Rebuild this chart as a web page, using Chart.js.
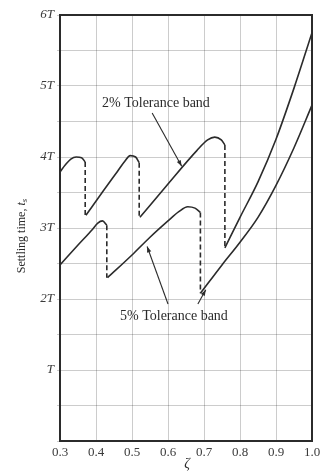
<!DOCTYPE html>
<html>
<head>
<meta charset="utf-8">
<script src="https://cdn.jsdelivr.net/npm/chart.js@4/dist/chart.umd.min.js"></script>
<style>
  html, body { margin: 0; padding: 0; background: #fff; }
</style>
</head>
<body>
<canvas id="grafica" width="329" height="475"></canvas>
<script>
  // --- Valores (ζ en el eje x, ts en unidades de T) ---
  // Banda del 2 %: cuatro tramos continuos
  const zeta2a = [0.3, 0.315, 0.33, 0.345, 0.36, 0.37];
  const ts2a   = [3.79, 3.89, 3.97, 4.0, 3.99, 3.93];
  const zeta2b = [0.372, 0.42, 0.46, 0.48, 0.495, 0.51, 0.52];
  const ts2b   = [3.18, 3.52, 3.8, 3.94, 4.02, 4.0, 3.92];
  const zeta2c = [0.522, 0.6, 0.68, 0.71, 0.73, 0.748, 0.758];
  const ts2c   = [3.15, 3.62, 4.09, 4.24, 4.28, 4.24, 4.17];
  const zeta2d = [0.758, 0.8, 0.85, 0.9, 0.95, 1.0];
  const ts2d   = [2.72, 3.15, 3.65, 4.25, 4.97, 5.75];

  // Banda del 5 %: tres tramos continuos
  const zeta5a = [0.3, 0.35, 0.39, 0.405, 0.418, 0.43];
  const ts5a   = [2.48, 2.76, 2.98, 3.07, 3.1, 3.04];
  const zeta5b = [0.432, 0.5, 0.55, 0.6, 0.63, 0.655, 0.675, 0.69];
  const ts5b   = [2.30, 2.62, 2.87, 3.1, 3.23, 3.30, 3.28, 3.22];
  const zeta5c = [0.69, 0.75, 0.8, 0.85, 0.9, 0.95, 1.0];
  const ts5c   = [2.08, 2.48, 2.8, 3.15, 3.6, 4.13, 4.73];

  // Saltos discontinuos (líneas a trazos)
  const salto2Zeta  = [0.37, 0.52, 0.758];
  const salto2Arriba = [3.93, 3.92, 4.17];
  const salto2Abajo  = [3.18, 3.15, 2.72];
  const salto5Zeta  = [0.43, 0.69];
  const salto5Arriba = [3.04, 3.22];
  const salto5Abajo  = [2.30, 2.08];

  // Ejes
  const ticksX = [0.3, 0.4, 0.5, 0.6, 0.7, 0.8, 0.9, 1.0];
  const etiquetasY = { 1: 'T', 2: '2T', 3: '3T', 4: '4T', 5: '5T', 6: '6T' };

  // --- Anotaciones (en coordenadas de datos) ---
  const rotulo2 = { texto: '2% Tolerance band', zeta: 0.4167, ts: 4.75 };
  const flecha2 = [[0.556, 4.62], [0.638, 3.87]];
  const rotulo5 = { texto: '5% Tolerance band', zeta: 0.4667, ts: 1.75 };
  const flecha5a = [[0.6, 1.93], [0.542, 2.74]];
  const flecha5b = [[0.683, 1.93], [0.705, 2.13]];

  const TINTA = '#2b2b2b';
  const SERIF = '"Liberation Serif", "DejaVu Serif", serif';

  function puntos(xs, ys) { return xs.map((x, i) => ({ x, y: ys[i] })); }

  function tramo(xs, ys) {
    return {
      data: puntos(xs, ys), borderColor: TINTA, borderWidth: 1.6,
      pointRadius: 0, cubicInterpolationMode: 'monotone', fill: false,
    };
  }
  function salto(x, y0, y1) {
    return {
      data: [{ x, y: y0 }, { x, y: y1 }], borderColor: TINTA, borderWidth: 1.6,
      borderDash: [5, 3], pointRadius: 0, fill: false,
    };
  }

  const datasets = [
    tramo(zeta2a, ts2a), tramo(zeta2b, ts2b), tramo(zeta2c, ts2c), tramo(zeta2d, ts2d),
    tramo(zeta5a, ts5a), tramo(zeta5b, ts5b), tramo(zeta5c, ts5c),
    ...salto2Zeta.map((z, i) => salto(z, salto2Arriba[i], salto2Abajo[i])),
    ...salto5Zeta.map((z, i) => salto(z, salto5Arriba[i], salto5Abajo[i])),
  ];

  /* --- Marco, rótulos, flechas y títulos de ejes --------------------------- */
  function dibujarFlecha(ctx, x, y, par) {
    const x0 = x.getPixelForValue(par[0][0]), y0 = y.getPixelForValue(par[0][1]);
    const x1 = x.getPixelForValue(par[1][0]), y1 = y.getPixelForValue(par[1][1]);
    ctx.beginPath(); ctx.moveTo(x0, y0); ctx.lineTo(x1, y1); ctx.stroke();
    const ang = Math.atan2(y1 - y0, x1 - x0), L = 6, W = 2.2;
    ctx.beginPath();
    ctx.moveTo(x1, y1);
    ctx.lineTo(x1 - L * Math.cos(ang) + W * Math.sin(ang), y1 - L * Math.sin(ang) - W * Math.cos(ang));
    ctx.lineTo(x1 - L * Math.cos(ang) - W * Math.sin(ang), y1 - L * Math.sin(ang) + W * Math.cos(ang));
    ctx.closePath(); ctx.fill();
  }

  const anotaciones = {
    id: 'anotaciones',
    afterDraw(chart) {
      const { ctx, chartArea: a, scales: { x, y } } = chart;
      ctx.save();
      ctx.strokeStyle = TINTA; ctx.fillStyle = TINTA;
      ctx.lineWidth = 2;
      ctx.strokeRect(a.left, a.top, a.right - a.left, a.bottom - a.top);

      ctx.font = '14px ' + SERIF;
      ctx.textBaseline = 'middle'; ctx.textAlign = 'left';
      ctx.fillText(rotulo2.texto, x.getPixelForValue(rotulo2.zeta), y.getPixelForValue(rotulo2.ts));
      ctx.fillText(rotulo5.texto, x.getPixelForValue(rotulo5.zeta), y.getPixelForValue(rotulo5.ts));

      ctx.lineWidth = 1.1;
      dibujarFlecha(ctx, x, y, flecha2);
      dibujarFlecha(ctx, x, y, flecha5a);
      dibujarFlecha(ctx, x, y, flecha5b);

      // ζ bajo el eje x
      ctx.font = 'italic 14px ' + SERIF;
      ctx.textAlign = 'center';
      ctx.fillText('ζ', (a.left + a.right) / 2 + 1, 464);

      // Título vertical: Settling time, t_s
      ctx.translate(22, 236);
      ctx.rotate(-Math.PI / 2);
      ctx.font = '12px ' + SERIF;
      const base = 'Settling time, ';
      ctx.font = '12px ' + SERIF;
      const w1 = ctx.measureText(base).width;
      ctx.font = 'italic 12px ' + SERIF;
      const w2 = ctx.measureText('t').width;
      ctx.font = 'italic 9px ' + SERIF;
      const w3 = ctx.measureText('s').width;
      let px = -(w1 + w2 + w3) / 2;
      ctx.textAlign = 'left';
      ctx.font = '12px ' + SERIF; ctx.fillText(base, px, 0); px += w1;
      ctx.font = 'italic 12px ' + SERIF; ctx.fillText('t', px, 0); px += w2;
      ctx.font = 'italic 9px ' + SERIF; ctx.fillText('s', px, 3);
      ctx.restore();
    },
  };

  new Chart(document.getElementById('grafica'), {
    type: 'line',
    data: { datasets },
    options: {
      responsive: false, animation: false, devicePixelRatio: 1,
      layout: { padding: { top: 15, right: 17, left: 0, bottom: 0 } },
      plugins: { legend: { display: false }, tooltip: { enabled: false } },
      scales: {
        x: {
          type: 'linear', min: 0.3, max: 1.0,
          afterBuildTicks: (s) => { s.ticks = ticksX.map(v => ({ value: v })); },
          afterFit: (s) => { s.height = 34; },
          ticks: {
            autoSkip: false, maxRotation: 0, padding: 4, color: '#3a3a3a',
            font: { family: SERIF, size: 13 },
            callback: (v) => Number(v).toFixed(1),
          },
          grid: { color: 'rgba(0,0,0,0.2)', lineWidth: 1, drawTicks: false },
          border: { color: TINTA, width: 2 },
        },
        y: {
          type: 'linear', min: 0, max: 6,
          ticks: {
            stepSize: 0.5, autoSkip: false, padding: 3, color: '#3a3a3a',
            font: { family: SERIF, size: 13, style: 'italic' },
            callback: (v) => etiquetasY[v] || '',
          },
          afterFit: (s) => { s.width = 60; },
          grid: { color: 'rgba(0,0,0,0.2)', lineWidth: 1, tickLength: 3 },
          border: { color: TINTA, width: 2 },
        },
      },
    },
    plugins: [anotaciones],
  });
</script>
</body>
</html>
